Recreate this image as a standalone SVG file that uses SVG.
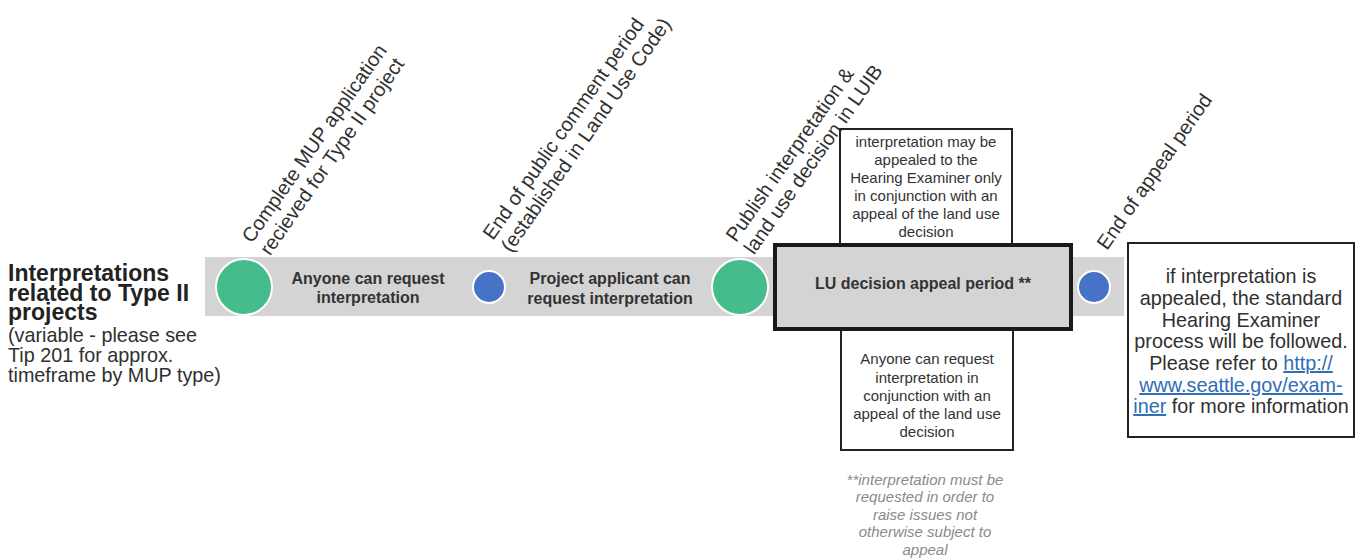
<svg xmlns="http://www.w3.org/2000/svg" width="1356" height="558" viewBox="0 0 1356 558">
<style>
.lt{font-family:"Liberation Sans",Arial,sans-serif;font-size:19.8px;fill:#303030}
.ttl{font-family:"Liberation Sans",Arial,sans-serif;font-weight:bold;font-size:23px;fill:#222}
.bd{font-family:"Liberation Sans",Arial,sans-serif;font-weight:bold;font-size:16px;fill:#333}
.sm{font-family:"Liberation Sans",Arial,sans-serif;font-size:15px;fill:#333;text-anchor:middle}
.fn{font-family:"Liberation Sans",Arial,sans-serif;font-size:15px;font-style:italic;fill:#8a8a8a;text-anchor:middle}
.rot{font-family:"Liberation Sans",Arial,sans-serif;font-size:20px;fill:#303030}
.green{fill:#45BC8C;stroke:#fff;stroke-width:2}
.blue{fill:#4673C8;stroke:#fff;stroke-width:2}
.box{fill:#fff;stroke:#222;stroke-width:2}
.link{fill:#2F6DB5;text-decoration:underline}
</style>
<rect width="1356" height="558" fill="#fff"/>
<g id="title">
<text class="ttl" x="8" y="281"><tspan x="8" y="281">Interpretations</tspan><tspan x="8" y="301">related to Type II</tspan><tspan x="8" y="320">projects</tspan></text>
<text class="lt" x="8" y="342"><tspan x="8" y="342">(variable - please see</tspan><tspan x="8" y="362">Tip 201 for approx.</tspan><tspan x="8" y="382">timeframe by MUP type)</tspan></text>
</g>
<g id="timeline">
<rect x="205" y="257" width="919" height="59" fill="#D4D4D4"/>
</g>
<g id="connectors"></g>
<g id="top-box">
<rect class="box" x="840" y="129" width="172" height="116"/>
<text class="sm" x="926" y="147">interpretation may be</text>
<text class="sm" x="926" y="165">appealed to the</text>
<text class="sm" x="926" y="183">Hearing Examiner only</text>
<text class="sm" x="926" y="201">in conjunction with an</text>
<text class="sm" x="926" y="219">appeal of the land use</text>
<text class="sm" x="926" y="237">decision</text>
</g>
<g id="bottom-box">
<rect class="box" x="841" y="329" width="172" height="121"/>
<text class="sm" x="927" y="364">Anyone can request</text>
<text class="sm" x="927" y="383">interpretation in</text>
<text class="sm" x="927" y="401">conjunction with an</text>
<text class="sm" x="927" y="419">appeal of the land use</text>
<text class="sm" x="927" y="437">decision</text>
</g>
<g id="appeal-period">
<rect x="775" y="245" width="296" height="84" fill="#D4D4D4" stroke="#1a1a1a" stroke-width="4"/>
<text class="bd" x="923" y="289" text-anchor="middle">LU decision appeal period **</text>
</g>
<g id="milestone-1">
<circle class="green" cx="244" cy="287" r="28"/>
<text class="rot" transform="translate(252,244) rotate(-55)"><tspan x="0" y="0">Complete MUP application</tspan><tspan x="0" y="22">recieved for Type II project</tspan></text>
</g>
<g id="phase-1">
<text class="bd" x="368" y="284" text-anchor="middle">Anyone can request</text>
<text class="bd" x="368" y="303" text-anchor="middle">interpretation</text>
</g>
<g id="milestone-2">
<circle class="blue" cx="489" cy="287" r="16"/>
<text class="rot" transform="translate(493,241) rotate(-55)"><tspan x="0" y="0">End of public comment period</tspan><tspan x="0" y="22">(established in Land Use Code)</tspan></text>
</g>
<g id="phase-2">
<text class="bd" x="610" y="284" text-anchor="middle">Project applicant can</text>
<text class="bd" x="610" y="304" text-anchor="middle">request interpretation</text>
</g>
<g id="milestone-3">
<circle class="green" cx="740" cy="287" r="28"/>
<text class="rot" transform="translate(736,243) rotate(-55)"><tspan x="0" y="0">Publish interpretation &amp;</tspan><tspan x="0" y="22">land use decision in LUIB</tspan></text>
</g>
<g id="milestone-4">
<circle class="blue" cx="1094" cy="287" r="16"/>
<text class="rot" transform="translate(1107,251) rotate(-55)">End of appeal period</text>
</g>
<g id="hearing-box">
<rect class="box" x="1128" y="243" width="226" height="194"/>
<g class="lt" text-anchor="middle">
<text x="1241" y="283">if interpretation is</text>
<text x="1241" y="305">appealed, the standard</text>
<text x="1241" y="327">Hearing Examiner</text>
<text x="1241" y="348">process will be followed.</text>
<text x="1241" y="370">Please refer to <tspan class="link">http://</tspan></text>
<text x="1241" y="392" class="link">www.seattle.gov/exam-</text>
<text x="1241" y="413"><tspan class="link">iner</tspan> for more information</text>
</g>
</g>
<g id="footnote">
<text class="fn" x="925" y="485">**interpretation must be</text>
<text class="fn" x="925" y="502">requested in order to</text>
<text class="fn" x="925" y="520">raise issues not</text>
<text class="fn" x="925" y="537">otherwise subject to</text>
<text class="fn" x="925" y="555">appeal</text>
</g>
</svg>
